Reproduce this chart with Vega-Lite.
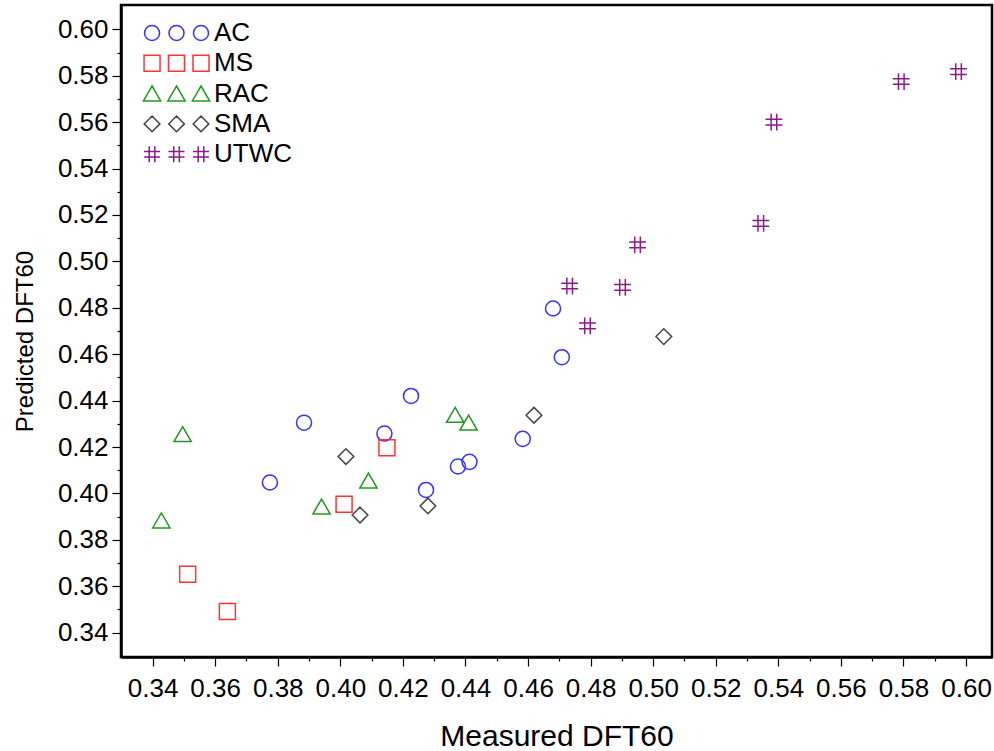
{
  "$schema": "https://vega.github.io/schema/vega-lite/v6.json",
  "autosize": {"type": "none"},
  "padding": {"left": 121, "top": 5, "right": 2, "bottom": 94},
  "width": 871,
  "height": 652,
  "background": "white",
  "data": {
    "values": [
      {"x": 0.3775, "y": 0.4047, "group": "AC"},
      {"x": 0.3884, "y": 0.4305, "group": "AC"},
      {"x": 0.4141, "y": 0.4258, "group": "AC"},
      {"x": 0.4226, "y": 0.4420, "group": "AC"},
      {"x": 0.4274, "y": 0.4015, "group": "AC"},
      {"x": 0.4376, "y": 0.4116, "group": "AC"},
      {"x": 0.4413, "y": 0.4136, "group": "AC"},
      {"x": 0.4583, "y": 0.4235, "group": "AC"},
      {"x": 0.4680, "y": 0.4797, "group": "AC"},
      {"x": 0.4708, "y": 0.4587, "group": "AC"},
      {"x": 0.3512, "y": 0.3652, "group": "MS"},
      {"x": 0.3639, "y": 0.3491, "group": "MS"},
      {"x": 0.4012, "y": 0.3953, "group": "MS"},
      {"x": 0.4149, "y": 0.4197, "group": "MS"},
      {"x": 0.3428, "y": 0.3883, "group": "RAC"},
      {"x": 0.3496, "y": 0.4255, "group": "RAC"},
      {"x": 0.3940, "y": 0.3943, "group": "RAC"},
      {"x": 0.4090, "y": 0.4055, "group": "RAC"},
      {"x": 0.4367, "y": 0.4338, "group": "RAC"},
      {"x": 0.4410, "y": 0.4305, "group": "RAC"},
      {"x": 0.4018, "y": 0.4159, "group": "SMA"},
      {"x": 0.4063, "y": 0.3907, "group": "SMA"},
      {"x": 0.4280, "y": 0.3946, "group": "SMA"},
      {"x": 0.4619, "y": 0.4337, "group": "SMA"},
      {"x": 0.5034, "y": 0.4676, "group": "SMA"},
      {"x": 0.4733, "y": 0.4894, "group": "UTWC"},
      {"x": 0.4902, "y": 0.4888, "group": "UTWC"},
      {"x": 0.4790, "y": 0.4722, "group": "UTWC"},
      {"x": 0.4950, "y": 0.5071, "group": "UTWC"},
      {"x": 0.5344, "y": 0.5164, "group": "UTWC"},
      {"x": 0.5386, "y": 0.5600, "group": "UTWC"},
      {"x": 0.5793, "y": 0.5775, "group": "UTWC"},
      {"x": 0.5976, "y": 0.5818, "group": "UTWC"}
    ]
  },
  "encoding": {
    "x": {
      "field": "x", "type": "quantitative",
      "scale": {"domain": [0.3299, 0.6083], "nice": false, "zero": false},
      "axis": {
        "title": "Measured DFT60",
        "values": [0.34, 0.35, 0.36, 0.37, 0.38, 0.39, 0.40, 0.41, 0.42, 0.43, 0.44, 0.45, 0.46, 0.47, 0.48, 0.49, 0.50, 0.51, 0.52, 0.53, 0.54, 0.55, 0.56, 0.57, 0.58, 0.59, 0.60],
        "labelExpr": "round(datum.value*100) % 2 == 0 ? format(datum.value, '.2f') : ''",
        "tickSize": {"condition": {"test": "round(datum.value*100) % 2 == 0", "value": 9}, "value": 4},
        "labelPadding": 9,
        "labelFontSize": 26,
        "titleFontSize": 30,
        "titlePadding": 20
      }
    },
    "y": {
      "field": "y", "type": "quantitative",
      "scale": {"domain": [0.3295, 0.6105], "nice": false, "zero": false},
      "axis": {
        "title": "Predicted DFT60",
        "values": [0.34, 0.35, 0.36, 0.37, 0.38, 0.39, 0.40, 0.41, 0.42, 0.43, 0.44, 0.45, 0.46, 0.47, 0.48, 0.49, 0.50, 0.51, 0.52, 0.53, 0.54, 0.55, 0.56, 0.57, 0.58, 0.59, 0.60],
        "labelExpr": "round(datum.value*100) % 2 == 0 ? format(datum.value, '.2f') : ''",
        "tickSize": {"condition": {"test": "round(datum.value*100) % 2 == 0", "value": 9}, "value": 4},
        "labelPadding": 4,
        "labelFontSize": 26,
        "titleFontSize": 24,
        "titlePadding": 20,
        "titleY": 336
      }
    },
    "color": {
      "field": "group", "type": "nominal",
      "scale": {"domain": ["AC", "MS", "RAC", "SMA", "UTWC"], "range": ["#3333ff", "#ff3333", "#229922", "#444444", "#8b1a8b"]},
      "legend": {
        "title": null,
        "orient": "none",
        "legendX": 67,
        "legendY": 15,
        "padding": 0,
        "symbolSize": 256,
        "symbolStrokeWidth": 1.5,
        "symbolFillColor": "transparent",
        "symbolType": {"expr": "datum.value === 'AC' ? 'M-5.18,0A0.94,0.94,0,1,1,-7.06,0A0.94,0.94,0,1,1,-5.18,0ZM-2.12,0A0.94,0.94,0,1,1,-4,0A0.94,0.94,0,1,1,-2.12,0ZM0.94,0A0.94,0.94,0,1,1,-0.94,0A0.94,0.94,0,1,1,0.94,0Z' : datum.value === 'MS' ? 'M-7.12,-1H-5.12V1H-7.12ZM-4.06,-1H-2.06V1H-4.06ZM-1,-1H1V1H-1Z' : datum.value === 'RAC' ? 'M-6.12,-0.95L-5.04,0.92L-7.2,0.92ZM-3.06,-0.95L-1.98,0.92L-4.14,0.92ZM0,-0.95L1.08,0.92L-1.08,0.92Z' : datum.value === 'SMA' ? 'M-6.12,-0.98L-5.14,0L-6.12,0.98L-7.1,0ZM-3.06,-0.98L-2.08,0L-3.06,0.98L-4.04,0ZM0,-0.98L0.98,0L0,0.98L-0.98,0Z' : 'M-6.47,-1V1M-5.77,-1V1M-7.12,-0.35H-5.12M-7.12,0.35H-5.12M-3.41,-1V1M-2.71,-1V1M-4.06,-0.35H-2.06M-4.06,0.35H-2.06M-0.35,-1V1M0.35,-1V1M-1,-0.35H1M-1,0.35H1'"},
        "labelFontSize": 26,
        "labelFont": "Liberation Sans",
        "labelColor": "black",
        "labelOffset": 0,
        "rowPadding": 4.3
      }
    }
  },
  "layer": [
    {
      "transform": [{"filter": "datum.group === 'AC'"}],
      "mark": {"type": "point", "filled": false, "strokeWidth": 1.5, "size": 256, "opacity": 1, "shape": "M0.94,0A0.94,0.94,0,1,1,-0.94,0A0.94,0.94,0,1,1,0.94,0Z"}
    },
    {
      "transform": [{"filter": "datum.group === 'MS'"}],
      "mark": {"type": "point", "filled": false, "strokeWidth": 1.5, "size": 256, "opacity": 1, "shape": "M-1,-1H1V1H-1Z"}
    },
    {
      "transform": [{"filter": "datum.group === 'RAC'"}],
      "mark": {"type": "point", "filled": false, "strokeWidth": 1.5, "size": 256, "opacity": 1, "shape": "M0,-0.95L1.08,0.92L-1.08,0.92Z"}
    },
    {
      "transform": [{"filter": "datum.group === 'SMA'"}],
      "mark": {"type": "point", "filled": false, "strokeWidth": 1.5, "size": 256, "opacity": 1, "shape": "M0,-0.98L0.98,0L0,0.98L-0.98,0Z"}
    },
    {
      "transform": [{"filter": "datum.group === 'UTWC'"}],
      "mark": {"type": "point", "filled": false, "strokeWidth": 1.5, "size": 256, "opacity": 1, "shape": "M-0.35,-1.05V1.05M0.35,-1.05V1.05M-1.05,-0.35H1.05M-1.05,0.35H1.05"}
    }
  ],
  "config": {
    "font": "Liberation Sans",
    "view": {"stroke": "black", "strokeWidth": 2.5},
    "axis": {
      "grid": false,
      "domainColor": "black",
      "domainWidth": 2.5,
      "tickColor": "black",
      "tickWidth": 1.2,
      "labelColor": "black",
      "titleColor": "black",
      "labelFont": "Liberation Sans",
      "titleFont": "Liberation Sans",
      "titleFontWeight": "normal",
      "labelOverlap": false,
      "labelBound": false,
      "labelFlush": false
    }
  }
}
